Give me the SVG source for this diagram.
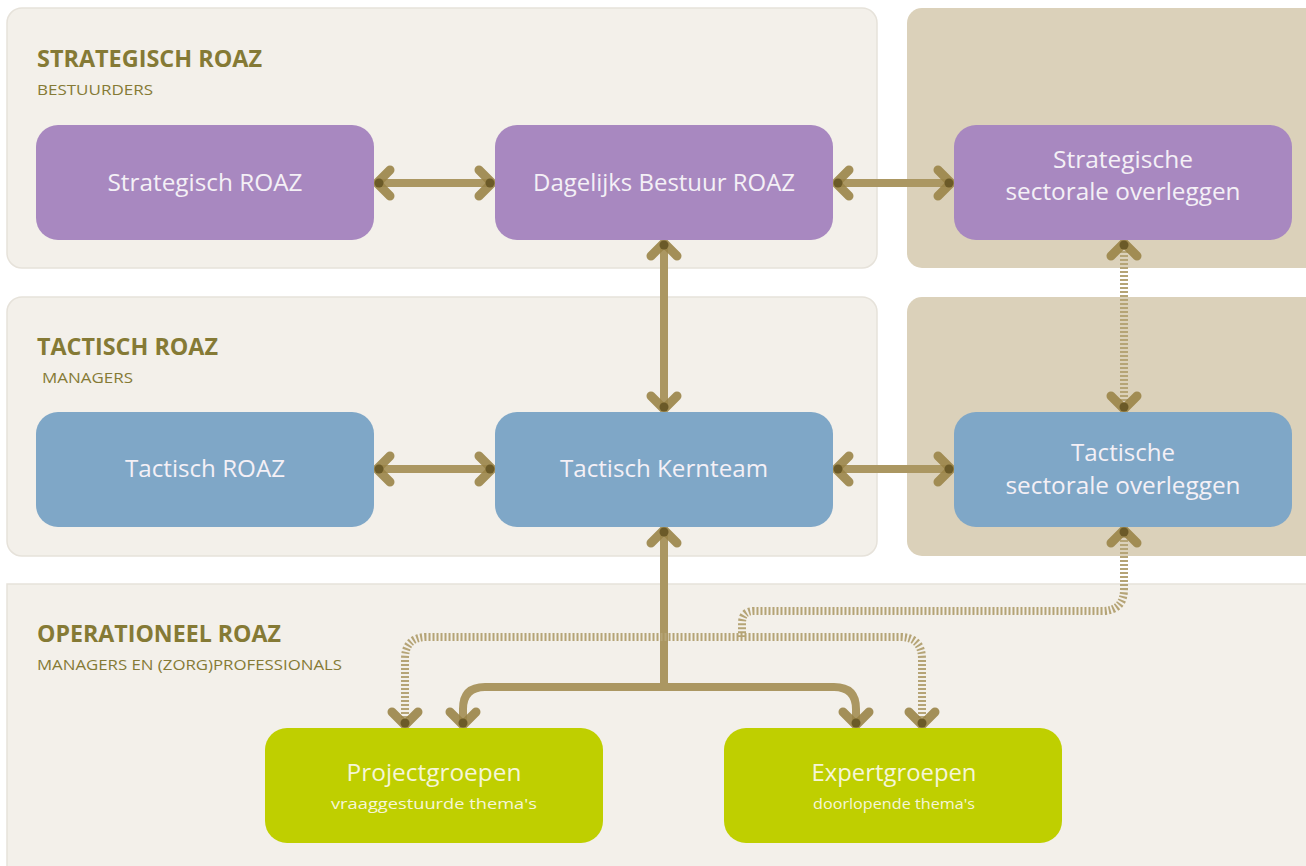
<svg xmlns="http://www.w3.org/2000/svg" xmlns:xlink="http://www.w3.org/1999/xlink" width="1306" height="866" viewBox="0 0 1306 866">
<style>
.panel{fill:#f3f0ea;stroke:#e6e2da;stroke-width:1.5}
.side{fill:#dbd1ba}
.title{font-family:"Open Sans","Liberation Sans",sans-serif;font-weight:bold;font-size:23px;fill:#857a35}
.sub{font-family:"Open Sans","Liberation Sans",sans-serif;font-size:14px;fill:#857a35}
.purple{fill:#a888c0}
.blue{fill:#7fa7c7}
.green{fill:#bfcf00}
.lbl{font-family:"Open Sans","Liberation Sans",sans-serif;font-size:23px;fill:#f4f0f6;text-anchor:middle}
.glbl{font-family:"Open Sans","Liberation Sans",sans-serif;font-size:23px;fill:#f6f6d8;text-anchor:middle}
.gsub{font-family:"Open Sans","Liberation Sans",sans-serif;font-size:14px;fill:#f6f6d8;text-anchor:middle}
.solid{fill:none;stroke:#ab9762;stroke-width:8;stroke-linecap:butt;stroke-linejoin:round}
.dot{fill:none;stroke:#b5a476;stroke-width:8;stroke-dasharray:2 2}
.head{fill:none;stroke:#9a8448;stroke-opacity:0.9;stroke-width:9;stroke-linecap:round;stroke-linejoin:round}
</style>
<defs>
<g id="ah">
<path class="head" d="M-13,-13 L0,0 L-13,13"/>
<circle cx="-2" cy="0" r="4.5" fill="#6b5a28"/>
</g>
</defs>
<rect width="1306" height="866" fill="#ffffff"/>
<g id="panels">
<rect class="panel" x="7" y="8" width="870" height="260" rx="15"/>
<rect class="side" x="907" y="8" width="420" height="260" rx="15"/>
<rect class="panel" x="7" y="297" width="870" height="259" rx="15"/>
<rect class="side" x="907" y="297" width="420" height="259" rx="15"/>
<rect class="panel" x="7" y="584" width="1320" height="300" rx="0"/>
</g>
<g id="level-titles">
<text class="title" x="37" y="67" textLength="225" lengthAdjust="spacingAndGlyphs">STRATEGISCH ROAZ</text>
<text class="sub" x="37" y="95" textLength="116" lengthAdjust="spacingAndGlyphs">BESTUURDERS</text>
<text class="title" x="37" y="355" textLength="181" lengthAdjust="spacingAndGlyphs">TACTISCH ROAZ</text>
<text class="sub" x="42" y="383" textLength="91" lengthAdjust="spacingAndGlyphs">MANAGERS</text>
<text class="title" x="37" y="642" textLength="244" lengthAdjust="spacingAndGlyphs">OPERATIONEEL ROAZ</text>
<text class="sub" x="37" y="670" textLength="305" lengthAdjust="spacingAndGlyphs">MANAGERS EN (ZORG)PROFESSIONALS</text>
</g>
<g id="connectors">
<path class="solid" d="M379,183 H490"/>
<path class="solid" d="M838,183 H949"/>
<path class="solid" d="M664,245 V407"/>
<path class="solid" d="M379,469 H490"/>
<path class="solid" d="M838,469 H949"/>
<path class="dot" d="M1124,247 V405"/>
<path class="solid" d="M664,532 V687"/>
<path class="solid" d="M463,720 V709 Q463,687 485,687 H834 Q856,687 856,709 V720"/>
<path class="dot" d="M1124,536 V589 Q1124,611 1102,611 H754 Q742,611 742,623 V637"/>
<path class="dot" d="M405,718 V659 Q405,637 427,637 H900 Q922,637 922,659 V718"/>
<use xlink:href="#ah" transform="translate(377,183) rotate(180)"/>
<use xlink:href="#ah" transform="translate(492,183)"/>
<use xlink:href="#ah" transform="translate(836,183) rotate(180)"/>
<use xlink:href="#ah" transform="translate(951,183)"/>
<use xlink:href="#ah" transform="translate(664,243) rotate(-90)"/>
<use xlink:href="#ah" transform="translate(664,409) rotate(90)"/>
<use xlink:href="#ah" transform="translate(377,469) rotate(180)"/>
<use xlink:href="#ah" transform="translate(492,469)"/>
<use xlink:href="#ah" transform="translate(836,469) rotate(180)"/>
<use xlink:href="#ah" transform="translate(951,469)"/>
<use xlink:href="#ah" transform="translate(1124,243) rotate(-90)"/>
<use xlink:href="#ah" transform="translate(1124,409) rotate(90)"/>
<use xlink:href="#ah" transform="translate(664,530) rotate(-90)"/>
<use xlink:href="#ah" transform="translate(1124,530) rotate(-90)"/>
<use xlink:href="#ah" transform="translate(405,725) rotate(90)"/>
<use xlink:href="#ah" transform="translate(463,725) rotate(90)"/>
<use xlink:href="#ah" transform="translate(856,725) rotate(90)"/>
<use xlink:href="#ah" transform="translate(922,725) rotate(90)"/>
</g>
<g id="node-strategisch-roaz">
<rect class="purple" x="36" y="125" width="338" height="115" rx="22"/>
<text class="lbl" x="205" y="191" textLength="195" lengthAdjust="spacingAndGlyphs">Strategisch ROAZ</text>
</g>
<g id="node-dagelijks-bestuur">
<rect class="purple" x="495" y="125" width="338" height="115" rx="22"/>
<text class="lbl" x="664" y="191" textLength="262" lengthAdjust="spacingAndGlyphs">Dagelijks Bestuur ROAZ</text>
</g>
<g id="node-strategische-sectorale">
<rect class="purple" x="954" y="125" width="338" height="115" rx="22"/>
<text class="lbl" x="1123" y="168" textLength="140" lengthAdjust="spacingAndGlyphs">Strategische</text>
<text class="lbl" x="1123" y="200" textLength="235" lengthAdjust="spacingAndGlyphs">sectorale overleggen</text>
</g>
<g id="node-tactisch-roaz">
<rect class="blue" x="36" y="412" width="338" height="115" rx="22"/>
<text class="lbl" x="205" y="477" textLength="160" lengthAdjust="spacingAndGlyphs">Tactisch ROAZ</text>
</g>
<g id="node-tactisch-kernteam">
<rect class="blue" x="495" y="412" width="338" height="115" rx="22"/>
<text class="lbl" x="664" y="477" textLength="208" lengthAdjust="spacingAndGlyphs">Tactisch Kernteam</text>
</g>
<g id="node-tactische-sectorale">
<rect class="blue" x="954" y="412" width="338" height="115" rx="22"/>
<text class="lbl" x="1123" y="461" textLength="104" lengthAdjust="spacingAndGlyphs">Tactische</text>
<text class="lbl" x="1123" y="494" textLength="235" lengthAdjust="spacingAndGlyphs">sectorale overleggen</text>
</g>
<g id="node-projectgroepen">
<rect class="green" x="265" y="728" width="338" height="115" rx="22"/>
<text class="glbl" x="434" y="781" textLength="175" lengthAdjust="spacingAndGlyphs">Projectgroepen</text>
<text class="gsub" x="434" y="809" textLength="206" lengthAdjust="spacingAndGlyphs">vraaggestuurde thema's</text>
</g>
<g id="node-expertgroepen">
<rect class="green" x="724" y="728" width="338" height="115" rx="22"/>
<text class="glbl" x="894" y="781" textLength="165" lengthAdjust="spacingAndGlyphs">Expertgroepen</text>
<text class="gsub" x="894" y="809" textLength="162" lengthAdjust="spacingAndGlyphs">doorlopende thema's</text>
</g>
</svg>
